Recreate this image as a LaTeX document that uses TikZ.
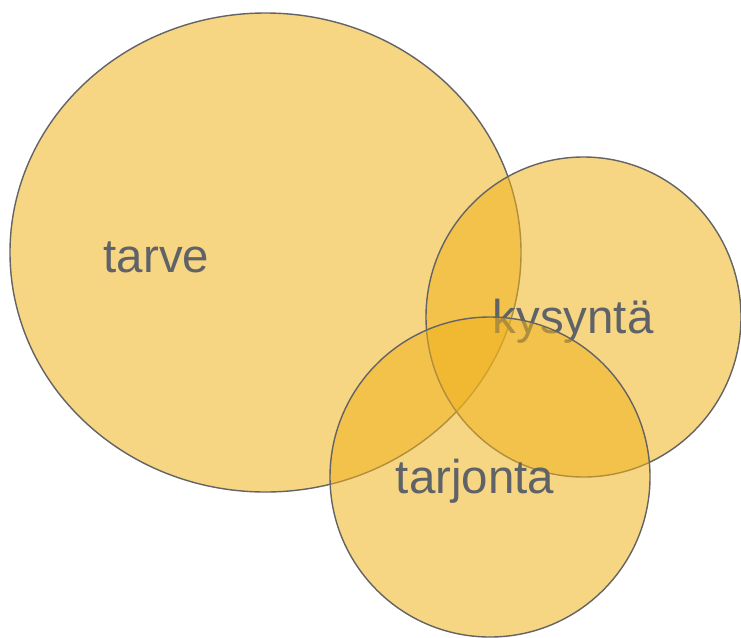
\documentclass[tikz,border=0pt]{standalone}
\usepackage{fontspec}
\setmainfont{Liberation Sans}
\usepackage{tikz}
\definecolor{setgold}{RGB}{239,178,29}
\definecolor{setedge}{RGB}{100,100,100}
\definecolor{settext}{RGB}{95,99,104}

\begin{document}
\begin{tikzpicture}[x=0.03cm,y=-0.03cm]
\useasboundingbox (0,0) rectangle (741,637);
\tikzset{
    setshape/.style={fill=setgold,fill opacity=0.55,draw=setedge,line width=1.2pt},
    setlabel/.style={text=settext,anchor=base,inner sep=0pt,
                     font=\fontsize{40.5}{46}\selectfont}
}
    \path[setshape] (265.5,252.5) ellipse [x radius=255.5, y radius=239.5];
    \node (tarve)[setlabel] at (156.5,272) {tarve};

    \path[setshape] (583.5,317) ellipse [x radius=157.5, y radius=160];
    \node (kysynta)[setlabel] at (573,333) {kysyntä};

    \path[setshape] (490,477) ellipse [x radius=160, y radius=160];
    \node (tarjonta)[setlabel] at (475,493) {tarjonta};
\end{tikzpicture}
\end{document}
